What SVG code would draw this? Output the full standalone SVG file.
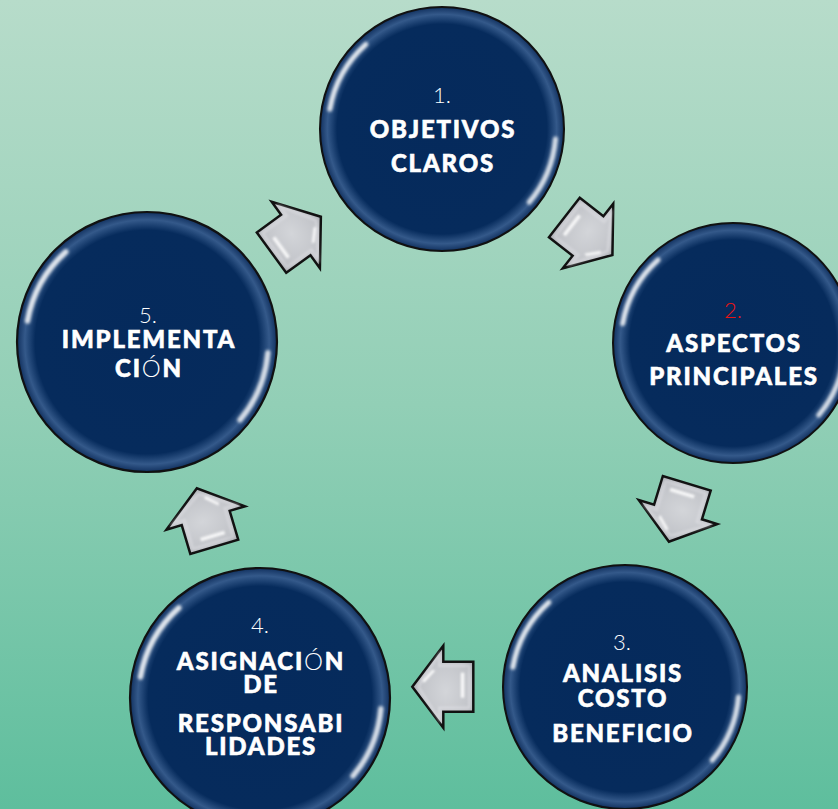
<svg xmlns="http://www.w3.org/2000/svg" width="838" height="809" viewBox="0 0 838 809">
<defs>
<linearGradient id="bg" x1="0" y1="0" x2="0" y2="1">
<stop offset="0" stop-color="#b7dcca"/>
<stop offset="0.5" stop-color="#92cfb6"/>
<stop offset="1" stop-color="#5ebe9d"/>
</linearGradient>
<radialGradient id="ball" cx="0.5" cy="0.5" r="0.5">
<stop offset="0" stop-color="#052a5c"/>
<stop offset="0.86" stop-color="#062b5c"/>
<stop offset="0.94" stop-color="#34598a"/>
<stop offset="0.985" stop-color="#1a3b6a"/>
<stop offset="1" stop-color="#0b2a55"/>
</radialGradient>
<radialGradient id="steel" cx="0.45" cy="0.45" r="0.6">
<stop offset="0" stop-color="#d3d5d9"/>
<stop offset="0.7" stop-color="#c2c4c9"/>
<stop offset="1" stop-color="#a3a6ac"/>
</radialGradient>
<filter id="blur" x="-20%" y="-20%" width="140%" height="140%"><feGaussianBlur stdDeviation="1.6"/></filter>
<filter id="blur2" x="-50%" y="-50%" width="200%" height="200%"><feGaussianBlur stdDeviation="1"/></filter>
<g id="ballshape">
<circle r="120" fill="url(#ball)" stroke="#111" stroke-width="2"/>
<path d="M-110.3,-19.4 A112,112 0 0 1 -74.9,-83.2" fill="none" stroke="#ffffff" stroke-opacity="0.85" stroke-width="5" stroke-linecap="round" filter="url(#blur)"/>
<path d="M111.6,9.8 A112,112 0 0 1 85.8,72" fill="none" stroke="#ffffff" stroke-opacity="0.8" stroke-width="5" stroke-linecap="round" filter="url(#blur)"/>
</g>
<g id="arrow">
<path d="M-30,-25 H0 V-41 L31,0 L0,41 V25 H-30 Z" fill="url(#steel)" stroke="#111" stroke-width="2.5" stroke-linejoin="miter"/>
<path d="M-26,-21 H4 V-33 L25,0 L4,33 V21 H-26 Z" fill="none" stroke="#e6e7ea" stroke-opacity="0.45" stroke-width="2.5" filter="url(#blur2)"/>
<polygon points="19,4 8,16 11,17 21,6" fill="#ffffff" fill-opacity="0.85" filter="url(#blur2)"/>
<rect x="-21" y="-11" width="3.5" height="25" fill="#ffffff" fill-opacity="0.85" filter="url(#blur2)"/>
</g>
</defs>
<style>
.num{font-family:Lato,"Open Sans",sans-serif;font-weight:300;font-size:22px;fill:#ffffff;text-anchor:middle}
.lbl{font-family:Lato,"Open Sans",sans-serif;font-weight:900;font-size:24px;fill:#ffffff;stroke:#ffffff;stroke-width:0.6;letter-spacing:1.8px;text-anchor:middle}
.thin{font-weight:300;stroke-width:0}
</style>
<rect width="838" height="809" fill="url(#bg)"/>
<g id="connectors">
<use href="#arrow" transform="translate(295.8,235) rotate(-36)"/>
<use href="#arrow" transform="translate(588,236) rotate(38)"/>
<use href="#arrow" transform="translate(678,512) rotate(107)"/>
<use href="#arrow" transform="translate(443.3,686.7) rotate(180)"/>
<use href="#arrow" transform="translate(205.7,518) rotate(-106.6)"/>
</g>
<g id="node1">
<use href="#ballshape" transform="translate(442,129) scale(1.0167)"/>
<text class="num" x="442" y="103">1.</text>
<text class="lbl" x="443" y="138">OBJETIVOS</text>
<text class="lbl" x="443" y="172">CLAROS</text>
</g>
<g id="node2">
<use href="#ballshape" transform="translate(733,343) scale(1)"/>
<text class="num" x="733" y="318" style="fill:#e81414">2.</text>
<text class="lbl" x="734" y="352">ASPECTOS</text>
<text class="lbl" x="734" y="385">PRINCIPALES</text>
</g>
<g id="node3">
<use href="#ballshape" transform="translate(625,687) scale(1.0167)"/>
<text class="num" x="622" y="650">3.</text>
<text class="lbl" x="623" y="682">ANALISIS</text>
<text class="lbl" x="623" y="707">COSTO</text>
<text class="lbl" x="623" y="742">BENEFICIO</text>
</g>
<g id="node4">
<use href="#ballshape" transform="translate(260,698) scale(1.0833)"/>
<text class="num" x="260" y="633">4.</text>
<text class="lbl" x="261" y="670">ASIGNACI<tspan class="thin">Ó</tspan>N</text>
<text class="lbl" x="261" y="693">DE</text>
<text class="lbl" x="261" y="732">RESPONSABI</text>
<text class="lbl" x="261" y="755">LIDADES</text>
</g>
<g id="node5">
<use href="#ballshape" transform="translate(147,342) scale(1.0833)"/>
<text class="num" x="148" y="323">5.</text>
<text class="lbl" x="149" y="348">IMPLEMENTA</text>
<text class="lbl" x="149" y="377">CI<tspan class="thin">Ó</tspan>N</text>
</g>
</svg>
